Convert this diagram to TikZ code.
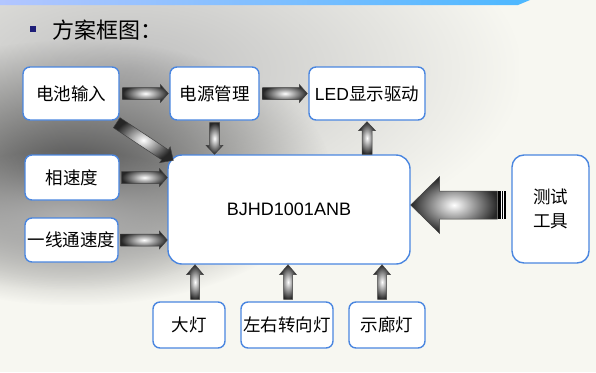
\documentclass[tikz,border=0pt]{standalone}
\usepackage{fontspec}
\setmainfont{Liberation Sans}
\newfontfamily\cjk{Noto Sans CJK SC}
\usetikzlibrary{calc,fadings}
\definecolor{boxblue}{HTML}{4A86E0}
\definecolor{navy}{HTML}{1E1E78}
\definecolor{bgcream}{HTML}{F7F7F1}
\tikzfading[name=softblob, inner color=transparent!0, outer color=transparent!100]
\newcommand\blockarr[5]{%
  \coordinate (baS) at #1;
  \coordinate (baE) at #2;
  \coordinate (baH) at ($(baE)!#5!(baS)$);
  \path[blockarrow] ($(baS)!#3!90:(baE)$) -- ($(baH)!#3!90:(baE)$) -- ($(baH)!#4!90:(baE)$)
     -- (baE) -- ($(baH)!#4!-90:(baE)$) -- ($(baH)!#3!-90:(baE)$) -- ($(baS)!#3!-90:(baE)$) -- cycle;
}
\begin{document}
\begin{tikzpicture}[x=1pt,y=-1pt,
  box/.style={draw=boxblue, line width=1.4pt, rounded corners=7pt, fill=white, inner sep=0pt,
    align=center, font=\fontsize{17.5}{24}\selectfont\cjk},
  blockarrow/.style={draw=black!75, line width=0.5pt, inner color=white, outer color=black!85}]
\useasboundingbox (0,0) rectangle (596,372);
% background
\fill[bgcream] (0,0) rectangle (596,372);
\fill[black!25, path fading=softblob] (-260,-120) rectangle (520,260);
\fill[black!70, path fading=softblob] (-180,40) rectangle (330,305);
\fill[black!30, path fading=softblob] (-100,150) rectangle (230,290);
\shade[left color=cyan!25!blue!30, right color=cyan!60!blue!70] (0,0) -- (530,0) -- (518,5) -- (0,5) -- cycle;
% title
\node[fill=navy, minimum size=6.5pt, inner sep=0pt] (bullet) at (33,29) {};
\node[anchor=west, inner sep=0pt, font=\fontsize{22}{26}\selectfont\cjk] (title) at (52,30) {方案框图：};
% boxes
\node[box, minimum width=96pt, minimum height=53pt] (bat) at (71,93.5) {电池输入};
\node[box, minimum width=89pt, minimum height=53pt] (pwr) at (214.5,93.5) {电源管理};
\node[box, minimum width=116pt, minimum height=53pt] (led) at (367,93.5) {{\rmfamily LED}显示驱动};
\node[box, minimum width=94pt, minimum height=45pt] (phase) at (72,177.5) {相速度};
\node[box, minimum width=93pt, minimum height=44pt] (line) at (71.5,240) {一线通速度};
\node[box, minimum width=242pt, minimum height=109pt, rounded corners=14pt] (mcu) at (289,209.5) {\rmfamily\fontsize{18}{22}\selectfont BJHD1001ANB};
\node[box, minimum width=77pt, minimum height=108pt, rounded corners=12pt] (test) at (550.5,209) {测试\\工具};
\node[box, minimum width=72pt, minimum height=46pt] (head) at (189,325) {大灯};
\node[box, minimum width=92pt, minimum height=46pt] (turn) at (287,325) {左右转向灯};
\node[box, minimum width=76pt, minimum height=46pt] (pos) at (387,325) {示廊灯};
% arrows
\blockarr{([xshift=3pt]bat.east)}{([xshift=-1pt]pwr.west)}{6pt}{9pt}{8pt}
\blockarr{([xshift=3pt]pwr.east)}{([xshift=-1pt]led.west)}{6pt}{9pt}{8pt}
\blockarr{($(bat.south east)+(-3,2)$)}{($(mcu.north west)+(6,6)$)}{6pt}{9.5pt}{10pt}
\blockarr{($(pwr.south)+(0,2)$)}{(pwr.south |- mcu.north)}{5pt}{8.5pt}{9pt}
\blockarr{(led.south |- mcu.north)}{($(led.south)+(0,1)$)}{5pt}{8.5pt}{9pt}
\blockarr{([xshift=2pt]phase.east)}{(mcu.west |- phase.east)}{6pt}{9pt}{8pt}
\blockarr{([xshift=2pt]line.east)}{(mcu.west |- line.east)}{6pt}{9pt}{8pt}
\coordinate (u1) at ($(head.north)+(6,-2)$);
\coordinate (u2) at ($(turn.north)+(1,-2)$);
\coordinate (u3) at ($(pos.north)+(-5,-2)$);
\blockarr{(u1)}{(u1 |- mcu.south)}{4.5pt}{8.5pt}{10pt}
\blockarr{(u2)}{(u2 |- mcu.south)}{4.5pt}{8.5pt}{10pt}
\blockarr{(u3)}{(u3 |- mcu.south)}{4.5pt}{8.5pt}{10pt}
\coordinate (bs) at ($(test.west)+(-14,-4)$);
\blockarr{(bs)}{(mcu.east |- bs)}{14pt}{28.5pt}{29pt}
\fill[black] ($(bs)+(1,-14)$) rectangle ($(bs)+(9,14)$);
\draw[white, line width=0.5pt] ($(bs)+(3.7,-14)$) -- ($(bs)+(3.7,14)$)
  ($(bs)+(6.4,-14)$) -- ($(bs)+(6.4,14)$);
\end{tikzpicture}
\end{document}
